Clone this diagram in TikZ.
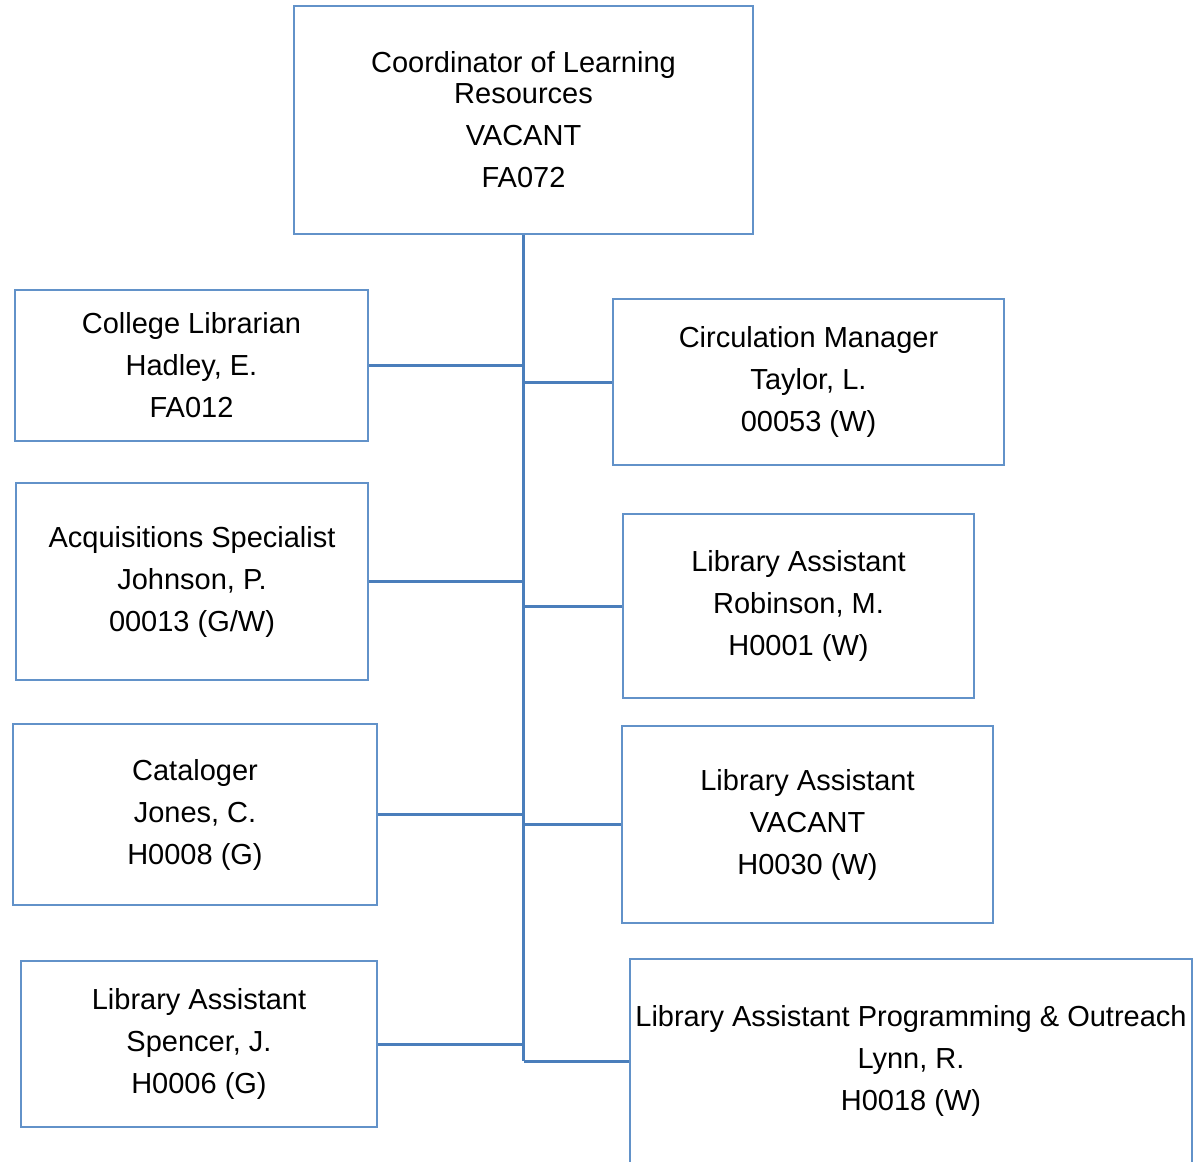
\documentclass[tikz,border=0pt]{standalone}
\usepackage{fontspec}
\setmainfont{Liberation Sans}
\definecolor{boxblue}{RGB}{98,146,201}
\definecolor{lineblue}{RGB}{74,126,187}
\begin{document}
\begin{tikzpicture}[x=1pt,y=-1pt,
  box/.style={draw=boxblue, line width=2.5pt, fill=white, inner sep=0pt,
    align=center, font=\fontsize{29pt}{42pt}\selectfont},
  conn/.style={draw=lineblue, line width=3pt}]
\useasboundingbox[fill=white] (0,0) rectangle (1193,1161);
% top
\node[box, minimum width=459pt, minimum height=228pt] (top) at (523.5,120)
  {Coordinator of Learning\\[-11pt]Resources\\VACANT\\FA072};
% left column
\node[box, minimum width=353pt, minimum height=151pt] (L1) at (191.5,365.5)
  {College Librarian\\Hadley, E.\\FA012};
\node[box, minimum width=352pt, minimum height=197pt] (L2) at (192,581.5)
  {Acquisitions Specialist\\Johnson, P.\\00013 (G/W)};
\node[box, minimum width=364pt, minimum height=181pt] (L3) at (195,814.5)
  {Cataloger\\Jones, C.\\H0008 (G)};
\node[box, minimum width=356pt, minimum height=166pt] (L4) at (199,1044)
  {Library Assistant\\Spencer, J.\\H0006 (G)};
% right column
\node[box, minimum width=391pt, minimum height=166pt] (R1) at (808.5,382)
  {Circulation Manager\\Taylor, L.\\00053 (W)};
\node[box, minimum width=351pt, minimum height=184pt] (R2) at (798.5,606)
  {Library Assistant\\Robinson, M.\\H0001 (W)};
\node[box, minimum width=371pt, minimum height=197pt] (R3) at (807.5,824.5)
  {Library Assistant\\VACANT\\H0030 (W)};
\node[box, minimum width=562pt, minimum height=204pt] (R4) at (911,1061)
  {Library Assistant Programming \& Outreach\\Lynn, R.\\H0018 (W)};
% connectors
\coordinate (trunkend) at (top.south |- R4.west);
\draw[conn] (top.south) -- (trunkend);
\draw[conn] (L1.east) -- (L1.east -| top.south);
\draw[conn] (L2.east) -- (L2.east -| top.south);
\draw[conn] (L3.east) -- (L3.east -| top.south);
\draw[conn] (L4.east) -- (L4.east -| top.south);
\draw[conn] (R1.west) -- (R1.west -| top.south);
\draw[conn] (R2.west) -- (R2.west -| top.south);
\draw[conn] (R3.west) -- (R3.west -| top.south);
\draw[conn] (R4.west) -- (trunkend);
\end{tikzpicture}
\end{document}
